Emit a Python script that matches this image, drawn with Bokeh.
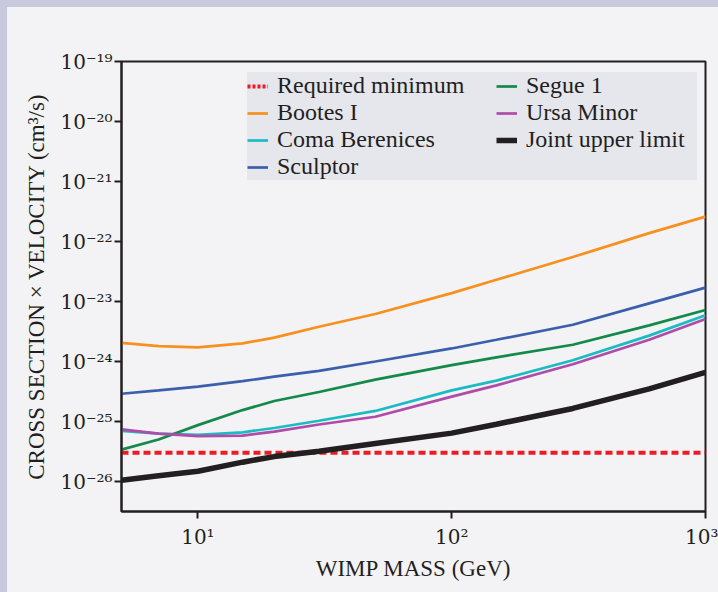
from bokeh.plotting import figure
from bokeh.models import Range1d, FixedTicker, CustomJSTickFormatter, Legend, LegendItem
from bokeh.embed import file_html
from bokeh.resources import INLINE

# WIMP mass (GeV)
mass = [5, 7, 10, 15, 20, 30, 50, 100, 150, 300, 600, 1000]

required_minimum = [3.0e-26] * len(mass)
bootes_i = [2.04e-24, 1.80e-24, 1.72e-24, 2.0e-24, 2.5e-24, 3.8e-24, 6.2e-24, 1.38e-23, 2.3e-23, 5.5e-23, 1.38e-22, 2.6e-22]
coma_berenices = [7.0e-26, 6.3e-26, 6.0e-26, 6.6e-26, 7.8e-26, 1.03e-25, 1.5e-25, 3.3e-25, 4.8e-25, 1.05e-24, 2.7e-24, 5.9e-24]
sculptor = [2.9e-25, 3.3e-25, 3.8e-25, 4.7e-25, 5.6e-25, 7.0e-25, 1.0e-24, 1.65e-24, 2.3e-24, 4.1e-24, 9.3e-24, 1.7e-23]
segue_1 = [3.4e-26, 5.0e-26, 8.7e-26, 1.55e-25, 2.2e-25, 3.1e-25, 5.0e-25, 8.7e-25, 1.17e-24, 1.9e-24, 4.0e-24, 7.2e-24]
ursa_minor = [7.4e-26, 6.3e-26, 5.7e-26, 5.8e-26, 6.8e-26, 8.9e-26, 1.2e-25, 2.6e-25, 4.0e-25, 9.0e-25, 2.3e-24, 5.1e-24]
joint_upper_limit = [1.05e-26, 1.25e-26, 1.48e-26, 2.1e-26, 2.6e-26, 3.2e-26, 4.3e-26, 6.4e-26, 9.0e-26, 1.65e-25, 3.5e-25, 6.6e-25]

x_ticks = [10, 100, 1000]
y_ticks = [1e-26, 1e-25, 1e-24, 1e-23, 1e-22, 1e-21, 1e-20, 1e-19]

BG = "#f3f3f5"
FONT = "Liberation Serif"
TICK_FONT = "DejaVu Serif"
TXT = "#231f20"
LEG_BG = "#e6e6ed"

p = figure(width=711, height=585, x_axis_type="log", y_axis_type="log",
           x_range=Range1d(5, 1000), y_range=Range1d(10 ** -26.5, 1e-19),
           output_backend="svg", toolbar_location=None,
           min_border_left=114, min_border_right=13, min_border_top=54, min_border_bottom=81)
p.background_fill_color = BG
p.border_fill_color = BG
p.outline_line_color = TXT
p.outline_line_width = 2
p.grid.visible = False

fmt = CustomJSTickFormatter(code="""
const sup = {"-":"\u207b","0":"\u2070","1":"\u00b9","2":"\u00b2","3":"\u00b3","4":"\u2074","5":"\u2075","6":"\u2076","7":"\u2077","8":"\u2078","9":"\u2079"};
const e = Math.round(Math.log10(tick));
return "10" + String(e).split("").map(c => sup[c]).join("");
""")

for ax, ticks in ((p.xaxis[0], x_ticks), (p.yaxis[0], y_ticks)):
    ax.ticker = FixedTicker(ticks=ticks, minor_ticks=[])
    ax.formatter = fmt
    ax.axis_line_width = 2
    ax.axis_line_color = TXT
    ax.major_tick_line_width = 2
    ax.major_tick_line_color = TXT
    ax.major_tick_out = 7
    ax.major_tick_in = 0
    ax.minor_tick_line_color = None
    ax.major_label_text_font = TICK_FONT
    ax.major_label_text_font_size = "20px"
    ax.major_label_text_color = TXT
    ax.axis_label_text_font = FONT
    ax.axis_label_text_font_size = "23px"
    ax.axis_label_text_font_style = "normal"
    ax.axis_label_text_color = TXT

p.xaxis.axis_label = "WIMP MASS (GeV)"
p.yaxis.axis_label = "CROSS SECTION \u00d7 VELOCITY (cm\u00b3/s)"
p.xaxis.major_label_standoff = 6
p.yaxis.major_label_standoff = 2
p.xaxis.axis_label_standoff = 4
p.yaxis.axis_label_standoff = 8

r_req = p.line(mass, required_minimum, line_color="#ed1c24", line_width=4, line_dash="7 4")
r_boo = p.line(mass, bootes_i, line_color="#f7901e", line_width=2.7)
r_com = p.line(mass, coma_berenices, line_color="#1abcc4", line_width=2.7)
r_scu = p.line(mass, sculptor, line_color="#3a5fad", line_width=2.7)
r_seg = p.line(mass, segue_1, line_color="#138a4a", line_width=2.7)
r_urs = p.line(mass, ursa_minor, line_color="#b04ba8", line_width=2.7)
r_joi = p.line(mass, joint_upper_limit, line_color=TXT, line_width=5.5)
# legend-only proxy for the dotted swatch, placed far outside the visible range
r_leg_req = p.line([1e-3, 2e-3], [1e-40, 1e-40], line_color="#ed1c24", line_width=4, line_dash="3 2")

def make_legend(items, loc, label_width, bg_alpha):
    lg = Legend(items=items, location=loc, orientation="vertical",
                background_fill_color=LEG_BG, background_fill_alpha=bg_alpha,
                border_line_color=None, padding=1, spacing=0, margin=0,
                glyph_width=21, glyph_height=20, label_height=20,
                label_standoff=9, label_width=label_width,
                label_text_font=FONT, label_text_font_size="24px", label_text_color=TXT)
    p.add_layout(lg)
    return lg

# first column carries the shared background box
make_legend([LegendItem(label="Required minimum", renderers=[r_leg_req]),
             LegendItem(label="Bootes I", renderers=[r_boo]),
             LegendItem(label="Coma Berenices", renderers=[r_com]),
             LegendItem(label="Sculptor", renderers=[r_scu])], (126, 331), 420, 1)
# second column: transparent, top-aligned with the first (one row higher bottom)
make_legend([LegendItem(label="Segue 1", renderers=[r_seg]),
             LegendItem(label="Ursa Minor", renderers=[r_urs]),
             LegendItem(label="Joint upper limit", renderers=[r_joi])], (375, 358), 10, 0)

html = file_html(p, INLINE)
html = html.replace("</head>", "<style>html{background:linear-gradient(to right,#c9c9de 7px,transparent 7px),linear-gradient(to bottom,#c9c9de 7px,#f3f3f5 7px);}body{background:transparent;padding:7px 0 0 7px !important;margin:0 !important;overflow:hidden;}</style></head>", 1)
open("out.html", "w").write(html)
